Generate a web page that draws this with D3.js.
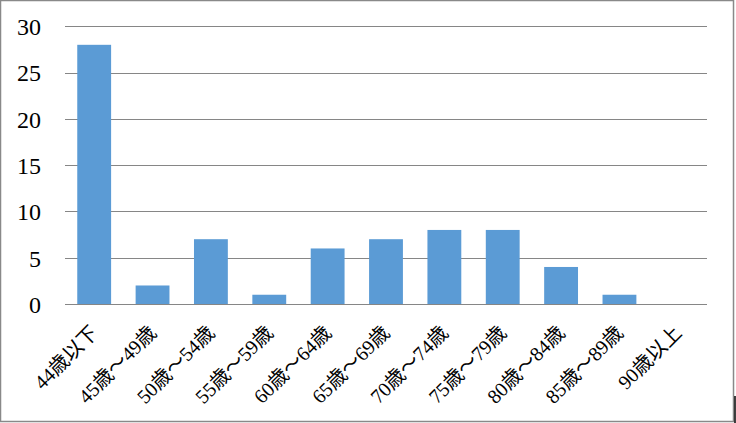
<!DOCTYPE html>
<html><head><meta charset="utf-8">
<script src="https://cdn.jsdelivr.net/npm/d3@7"></script>
<style>body{margin:0;background:#fff}svg{display:block}</style>
</head><body>
<script>
const categories = ["44歳以下","45歳～49歳","50歳～54歳","55歳～59歳","60歳～64歳","65歳～69歳","70歳～74歳","75歳～79歳","80歳～84歳","85歳～89歳","90歳以上"];
const values = [28,2,7,1,6,7,8,8,4,1,0];
const yTicks = [0,5,10,15,20,25,30];

const W = 736, H = 423;
const svg = d3.select("body").append("svg").attr("width", W).attr("height", H);
svg.append("rect").attr("x",0.5).attr("y",0.5).attr("width",733).attr("height",421)
  .attr("fill","#fff").attr("stroke","#898989").attr("stroke-width",1.5);
svg.append("line").attr("x1",735).attr("x2",735).attr("y1",396).attr("y2",423).attr("stroke","#000").attr("stroke-width",1.5);

const x = d3.scaleBand().domain(categories).range([65,707]).paddingInner(0.42).paddingOuter(0.21);
const y = d3.scaleLinear().domain([0,30]).range([304,26.3]);

const grid = svg.append("g");
grid.selectAll("line").data(yTicks).join("line")
  .attr("x1",65).attr("x2",707).attr("y1",d=>Math.round(y(d))+0.5).attr("y2",d=>Math.round(y(d))+0.5)
  .attr("stroke","#868686").attr("stroke-width",1);

svg.append("g").selectAll("rect").data(values).join("rect")
  .attr("x",(d,i)=>x(categories[i])).attr("width",x.bandwidth())
  .attr("y",d=>y(d)).attr("height",d=>y(0)-y(d)).attr("fill","#5B9BD5");

const yAxis = svg.append("g").attr("transform","translate(41,0)")
  .call(d3.axisLeft(y).tickValues(yTicks).tickSize(0).tickPadding(0));
yAxis.select(".domain").remove();
yAxis.selectAll("text").attr("font-family","'Liberation Serif', serif").attr("font-size",24).attr("fill","#000").attr("dy","0.35em");

const xl = svg.append("g");
xl.selectAll("text").data(categories).join("text")
  .attr("transform",d=>`translate(${x(d)+x.bandwidth()/2+5},${334}) rotate(-45)`)
  .attr("text-anchor","end")
  .attr("font-family","'Liberation Serif', 'Noto Sans CJK JP', serif")
  .attr("font-size",20).attr("fill","#000")
  .text(d=>d);
</script>
</body></html>
